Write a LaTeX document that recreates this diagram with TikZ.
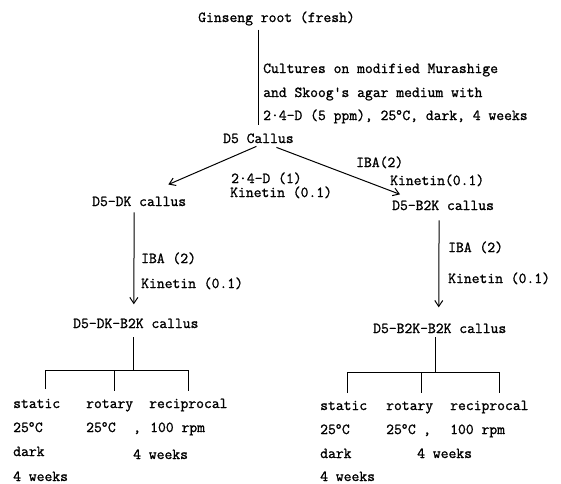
\documentclass[tikz,border=0pt]{standalone}
\usepackage{fontspec}
\setmonofont{Latin Modern Mono}[FakeBold=1.2]
\usetikzlibrary{arrows.meta}

\tikzset{
  tt/.style={font=\ttfamily\bfseries\fontsize{15.2}{18}\selectfont, inner sep=0pt, anchor=base west},
  flow/.style={line width=1pt, -{Straight Barb[length=6pt,width=8pt]}},
  branch/.style={line width=1pt}
}

\begin{document}
\begin{tikzpicture}[x=1pt,y=1pt]
  \useasboundingbox (0,0) rectangle (561,-483);

  % source and first culture
  \node[tt] (root) at (198,-22) {Ginseng root (fresh)};
  \node[tt] (cult1) at (263,-73) {Cultures on modified Murashige};
  \node[tt] (cult2) at (263,-97) {and Skoog's agar medium with};
  \node[tt] (cult3) at (263,-120) {2·4-D (5 ppm), 25\textsuperscript{o}C, dark, 4 weeks};
  \node[tt] (callus) at (223,-143) {D5 Callus};
  \draw[branch] (callus.north |- root.south) ++(0,-4) -- ([yshift=8pt]callus.north);

  % second step
  \node[tt] (dk) at (92,-206) {D5-DK callus};
  \node[tt] (b2k) at (392,-210) {D5-B2K callus};
  \draw[flow] ([shift={(-2,-3)}]callus.south) -- ([shift={(-18,12)}]dk.north east);
  \draw[flow] ([shift={(18,-4)}]callus.south) -- ([shift={(8,6)}]b2k.north west);
  \node[tt] (lblDKa) at (231,-183) {2·4-D (1)};
  \node[tt] (lblDKb) at (230,-197) {Kinetin (0.1)};
  \node[tt] (lblBKa) at (356,-167) {IBA(2)};
  \node[tt] (lblBKb) at (390,-185) {Kinetin(0.1)};

  % third step
  \node[tt] (dkb) at (73,-328) {D5-DK-B2K callus};
  \node[tt] (bbk) at (373,-333) {D5-B2K-B2K callus};
  \draw[flow] ([shift={(-5,-6)}]dk.south) -- ([shift={(-2,14)}]dkb.north);
  \draw[flow] ([shift={(-4,-10)}]b2k.south) -- ([shift={(-1,16)}]bbk.north);
  \node[tt] (lblDKc) at (141,-263) {IBA (2)};
  \node[tt] (lblDKd) at (141,-288) {Kinetin (0.1)};
  \node[tt] (lblBKc) at (448,-252) {IBA (2)};
  \node[tt] (lblBKd) at (448,-283) {Kinetin (0.1)};

  % left culture conditions
  \draw[branch] ([shift={(-2,-9)}]dkb.south) -- ++(0,-33);
  \draw[branch] (45,-389) -- (45,-370) -- (188,-370) -- (188,-391);
  \draw[branch] (114,-370) -- (114,-391);
  \node[tt] (lsta) at (13,-408) {static};
  \node[tt] (lstb) at (13,-432) {25\textsuperscript{o}C};
  \node[tt] (lstc) at (13,-456) {dark};
  \node[tt] (lstd) at (13,-481) {4 weeks};
  \node[tt] (lrota) at (86,-408) {rotary};
  \node[tt] (lrotb) at (86,-432) {25\textsuperscript{o}C};
  \node[tt] (lcom) at (133,-432) {,};
  \node[tt] (lreca) at (149,-408) {reciprocal};
  \node[tt] (lrecb) at (150,-432) {100 rpm};
  \node[tt] (lwk) at (133,-459) {4 weeks};

  % right culture conditions
  \draw[branch] ([shift={(-4,-4)}]bbk.south) -- ++(0,-35);
  \draw[branch] (347,-393) -- (347,-372) -- (499,-372) -- (499,-393);
  \draw[branch] (421,-372) -- (421,-393);
  \node[tt] (rsta) at (320,-410) {static};
  \node[tt] (rstb) at (320,-434) {25\textsuperscript{o}C};
  \node[tt] (rstc) at (320,-458) {dark};
  \node[tt] (rstd) at (320,-481) {4 weeks};
  \node[tt] (rrota) at (386,-410) {rotary};
  \node[tt] (rrotb) at (386,-434) {25\textsuperscript{o}C};
  \node[tt] (rcom) at (423,-434) {,};
  \node[tt] (rreca) at (450,-410) {reciprocal};
  \node[tt] (rrecb) at (450,-434) {100 rpm};
  \node[tt] (rwk) at (417,-458) {4 weeks};
\end{tikzpicture}
\end{document}
